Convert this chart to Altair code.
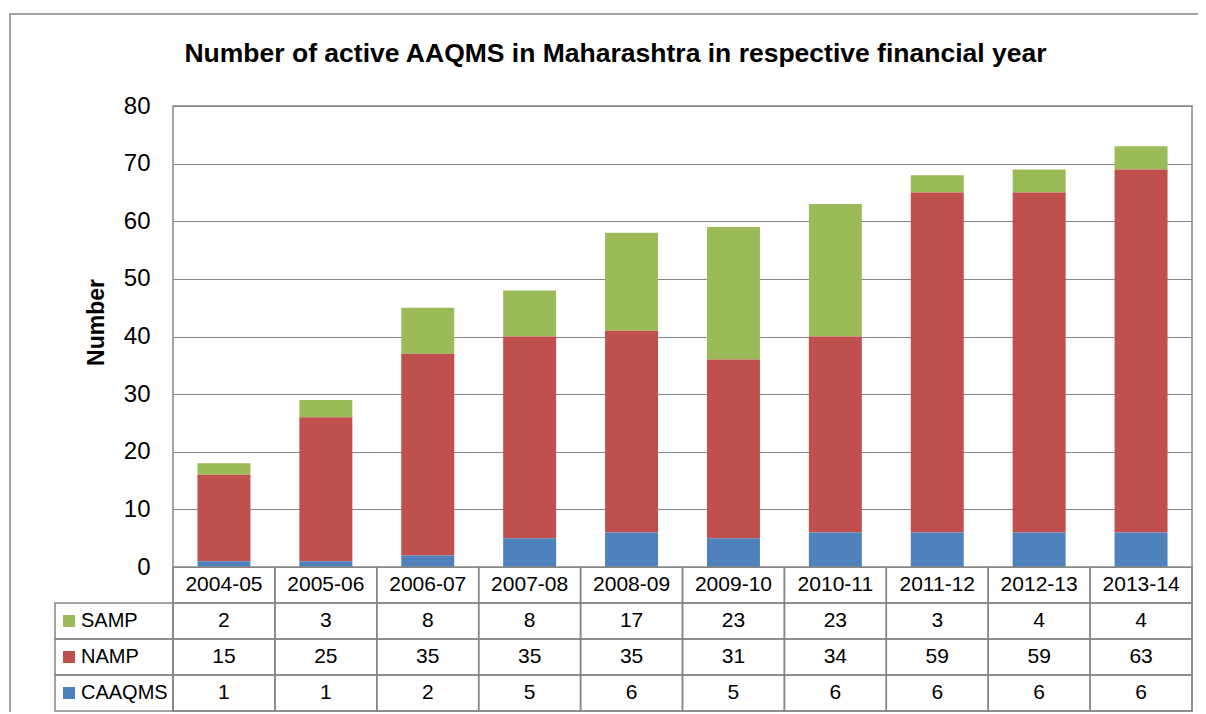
import altair as alt
import pandas as pd

categories = ["2004-05", "2005-06", "2006-07", "2007-08", "2008-09",
              "2009-10", "2010-11", "2011-12", "2012-13", "2013-14"]
series = ["SAMP", "NAMP", "CAAQMS"]
samp = [2, 3, 8, 8, 17, 23, 23, 3, 4, 4]
namp = [15, 25, 35, 35, 35, 31, 34, 59, 59, 63]
caaqms = [1, 1, 2, 5, 6, 5, 6, 6, 6, 6]
colors = ["#9BBB59", "#C0504D", "#4F81BD"]
y_ticks = [0, 10, 20, 30, 40, 50, 60, 70, 80]

FONT = "Liberation Sans Narrow, Arial Narrow, Liberation Sans, Arial, sans-serif"
GRAY = "#868686"

vals = {"SAMP": samp, "NAMP": namp, "CAAQMS": caaqms}
order = {"CAAQMS": 0, "NAMP": 1, "SAMP": 2}

bar_rows = []
for s in series:
    for c, v in zip(categories, vals[s]):
        bar_rows.append({"category": c, "series": s, "value": v, "ord": order[s]})
bar_df = pd.DataFrame(bar_rows)

table_rows = []
for i, c in enumerate(categories):
    table_rows.append({"category": c, "row": "hdr", "text": c})
    for s in series:
        table_rows.append({"category": c, "row": s, "text": str(vals[s][i])})
table_df = pd.DataFrame(table_rows)
legend_df = pd.DataFrame({"row": series, "series": series})
frame_df = pd.DataFrame({"a": [0]})

PLOT_H = 461
TOTAL_H = 605
W = 1019

x_enc = alt.X("category:N", sort=categories, axis=None,
              scale=alt.Scale(domain=categories, paddingInner=0, paddingOuter=0))
color_scale = alt.Scale(domain=series, range=colors)
row_scale = alt.Scale(domain=["hdr"] + series, range=[PLOT_H, TOTAL_H],
                      paddingInner=0, paddingOuter=0)

bars = alt.Chart(bar_df).mark_bar(width=alt.RelativeBandSize(0.52)).encode(
    x=x_enc,
    y=alt.Y("value:Q", stack="zero",
            scale=alt.Scale(domain=[0, 80], range=[PLOT_H, 0], nice=False),
            axis=alt.Axis(values=y_ticks, grid=True, gridColor=GRAY, gridWidth=1,
                          ticks=False, domain=False, labelFont=FONT, labelFontSize=24,
                          labelColor="black", labelPadding=23,
                          title="Number", titleFont=FONT, titleFontSize=23,
                          titleFontWeight="bold", titleColor="black",
                          titleX=-77, titleY=216, titleBaseline="middle",
                          titleAngle=270)),
    color=alt.Color("series:N", scale=color_scale, legend=None),
    order=alt.Order("ord:Q"),
)

y_row = alt.Y("row:N", scale=row_scale, axis=None)

cells = alt.Chart(table_df).mark_rect(fill="white", fillOpacity=0,
                                      stroke=GRAY, strokeWidth=1.5).encode(
    x=x_enc, y=y_row)
cell_text = alt.Chart(table_df).mark_text(font=FONT, fontSize=21, color="black",
                                          baseline="middle").encode(
    x=x_enc, y=y_row, text="text:N")

leg_cells = alt.Chart(legend_df).mark_rect(fill="white", fillOpacity=0,
                                          stroke=GRAY, strokeWidth=1.5).encode(
    x=alt.value(-118), x2=alt.value(0), y=y_row)
leg_sq = alt.Chart(legend_df).mark_square(size=144, opacity=1).encode(
    x=alt.value(-104), y=y_row,
    color=alt.Color("series:N", scale=color_scale, legend=None))
leg_text = alt.Chart(legend_df).mark_text(font=FONT, fontSize=20, color="black",
                                         align="left", baseline="middle").encode(
    x=alt.value(-92), y=y_row, text="series:N")

table = alt.layer(cells, cell_text, leg_cells, leg_sq, leg_text)

frame = alt.Chart(frame_df).mark_rect(fill="white", fillOpacity=0,
                                      stroke=GRAY, strokeWidth=1.5).encode(
    x=alt.value(-163), x2=alt.value(1200), y=alt.value(-92), y2=alt.value(800))

chart = alt.layer(frame, bars, table).resolve_scale(y="independent").properties(
    width=W, height=TOTAL_H,
    padding={"left": 165, "top": 98, "right": 6, "bottom": 1},
    autosize=alt.AutoSizeParams(type="none"),
    title=alt.TitleParams(
        "Number of active AAQMS in Maharashtra in respective financial year",
        font=FONT, fontSize=26.5, fontWeight="bold", color="black",
        anchor="middle", frame="group", dx=-67, offset=-75,
        baseline="alphabetic"),
).configure_view(stroke=GRAY, strokeWidth=1.5)

chart.save("out.html", embed_options={"renderer": "svg", "actions": False})
